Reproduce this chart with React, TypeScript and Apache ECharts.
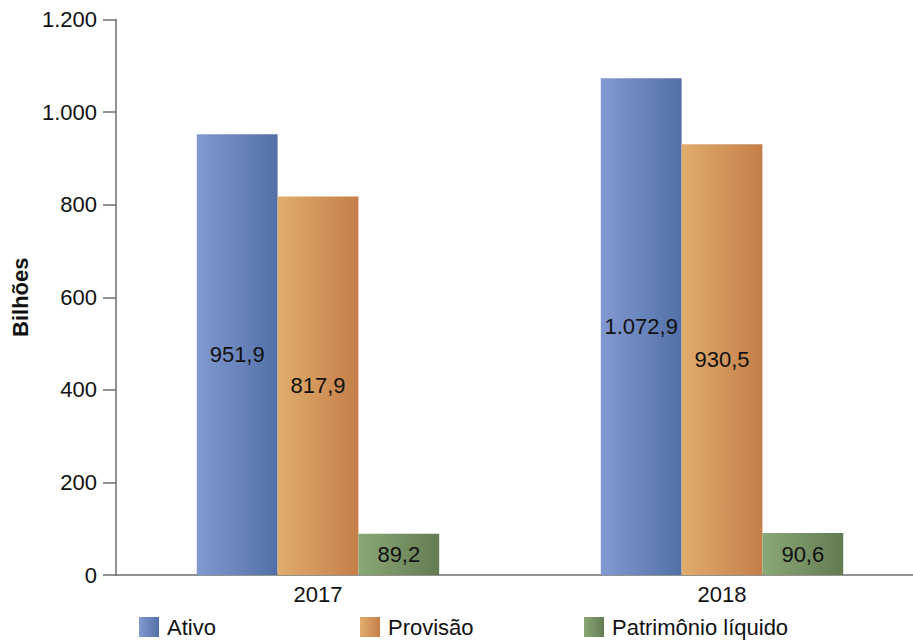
import React, { useEffect, useRef } from "react";
import * as echarts from "echarts";

const categories = ["2017", "2018"];
const seriesNames = ["Ativo", "Provisão", "Patrimônio líquido"];
const ativo = [951.9, 1072.9];
const provisao = [817.9, 930.5];
const patrimonio = [89.2, 90.6];
const yTicks = { min: 0, max: 1200, interval: 200 };

const gradients = [
  ["#8399d2", "#5270a7"],
  ["#e0ad6d", "#c57e49"],
  ["#8aa877", "#637b51"],
];

const FONT = "'Liberation Sans', Arial, sans-serif";

function fmtThousands(v: number, decimals: number): string {
  const s = v.toFixed(decimals);
  const [intPart, dec] = s.split(".");
  const withDots = intPart.replace(/\B(?=(\d{3})+(?!\d))/g, ".");
  return dec !== undefined ? `${withDots},${dec}` : withDots;
}

export default function App() {
  const ref = useRef<HTMLDivElement>(null);
  useEffect(() => {
    if (!ref.current) return;
    const chart = echarts.init(ref.current, undefined, { renderer: "svg" });
    const values = [ativo, provisao, patrimonio];
    const legendLefts = [139, 360, 584];
    chart.setOption({
      animation: false,
      backgroundColor: "#ffffff",
      textStyle: { fontFamily: FONT },
      grid: { left: 116, width: 808, top: 19.5, bottom: 67, outerBoundsMode: "none", containLabel: false },
      legend: seriesNames.map((n, i) => ({
        data: [n],
        left: legendLefts[i],
        top: 616,
        padding: 0,
        itemWidth: 20,
        itemHeight: 20,
        itemGap: 0,
        icon: "rect",
        textStyle: { fontSize: 22, color: "#111", fontFamily: FONT, padding: [0, 0, 0, 3] },
      })),
      xAxis: {
        type: "category",
        data: categories,
        axisLine: { lineStyle: { color: "#6e6e6e", width: 1.5 } },
        axisTick: { show: false },
        axisLabel: { fontSize: 22, color: "#111", margin: 8, fontFamily: FONT },
      },
      yAxis: {
        type: "value",
        min: yTicks.min,
        max: yTicks.max,
        interval: yTicks.interval,
        name: "Bilhões",
        nameLocation: "middle",
        nameRotate: 90,
        nameGap: 84,
        nameTextStyle: { fontSize: 22, fontWeight: "bold", color: "#111", fontFamily: FONT },
        axisLine: { show: true, lineStyle: { color: "#6e6e6e", width: 1.5 } },
        axisTick: { show: true, inside: false, length: 13, lineStyle: { color: "#6e6e6e", width: 1.5 } },
        splitLine: { show: false },
        axisLabel: {
          fontSize: 22,
          color: "#111",
          margin: 19,
          fontFamily: FONT,
          formatter: (v: number) => fmtThousands(v, 0),
        },
      },
      series: seriesNames.map((n, i) => ({
        name: n,
        type: "bar",
        data: values[i],
        barGap: "0%",
        barCategoryGap: "40%",
        itemStyle: {
          color: new echarts.graphic.LinearGradient(0, 0, 1, 0, [
            { offset: 0, color: gradients[i][0] },
            { offset: 1, color: gradients[i][1] },
          ]),
        },
        label: {
          show: true,
          position: "inside",
          fontSize: 22,
          color: "#111",
          fontFamily: FONT,
          formatter: (p: any) => fmtThousands(p.value, 1),
        },
      })),
    });
    return () => chart.dispose();
  }, []);
  return (
    <div
      ref={ref}
      style={{ position: "fixed", left: 0, top: 0, width: 913, height: 642 }}
    />
  );
}
